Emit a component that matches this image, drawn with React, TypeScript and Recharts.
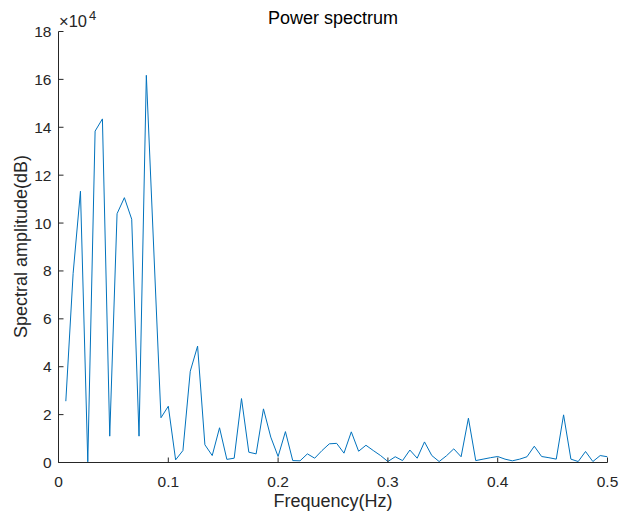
import React from 'react';
import { LineChart, Line, XAxis, YAxis } from 'recharts';

const frequencies: number[] = [
  0.00667, 0.01333, 0.02, 0.02667, 0.03333, 0.04, 0.04667, 0.05333, 0.06, 0.06667,
  0.07333, 0.08, 0.08667, 0.09333, 0.1, 0.10667, 0.11333, 0.12, 0.12667, 0.13333,
  0.14, 0.14667, 0.15333, 0.16, 0.16667, 0.17333, 0.18, 0.18667, 0.19333, 0.2,
  0.20667, 0.21333, 0.22, 0.22667, 0.23333, 0.24, 0.24667, 0.25333, 0.26, 0.26667,
  0.27333, 0.28, 0.28667, 0.29333, 0.3, 0.30667, 0.31333, 0.32, 0.32667, 0.33333,
  0.34, 0.34667, 0.35333, 0.36, 0.36667, 0.37333, 0.38, 0.38667, 0.39333, 0.4,
  0.40667, 0.41333, 0.42, 0.42667, 0.43333, 0.44, 0.44667, 0.45333, 0.46, 0.46667,
  0.47333, 0.48, 0.48667, 0.49333, 0.5,
];

const amplitudes: number[] = [
  25600, 79000, 113300, 300, 138400, 143500, 11000, 103900, 110600, 101600,
  11000, 161700, 90000, 18700, 23500, 1100, 5000, 38100, 48600, 7400,
  2900, 14500, 1300, 1800, 26700, 4300, 3600, 22400, 10600, 2500,
  12900, 800, 700, 3600, 1800, 5000, 7800, 8000, 3900, 12800,
  4700, 7200, 5000, 2900, 400, 2400, 800, 5200, 1800, 8600,
  2900, 400, 2800, 5700, 2400, 18500, 800, 1400, 2000, 2500,
  1400, 700, 1400, 2400, 6800, 2500, 2000, 1400, 19900, 1400,
  400, 4600, 400, 2900, 2400,
];

const xTicks: number[] = [0, 0.1, 0.2, 0.3, 0.4, 0.5];
const yTicks: number[] = [0, 20000, 40000, 60000, 80000, 100000, 120000, 140000, 160000, 180000];

const titleText = 'Power spectrum';
const xLabelText = 'Frequency(Hz)';
const yLabelText = 'Spectral amplitude(dB)';

const data = frequencies.map((f, i) => ({ f, v: amplitudes[i] }));

const FONT = '"Liberation Sans", Arial, Helvetica, sans-serif';
const INK = '#262626';
const TICK_LEN = 5;

const fmtX = (v: number) => (v === 0 ? '0' : String(Math.round(v * 10) / 10));
const fmtY = (v: number) => String(Math.round(v / 10000));

const BottomTick = (props: any) => {
  const { x, y, payload } = props;
  return (
    <g>
      <line x1={x} x2={x} y1={y} y2={y - TICK_LEN} stroke={INK} strokeWidth={1} />
      <text x={x} y={y + 24.5} textAnchor="middle" fontSize={15.5} fill={INK} fontFamily={FONT}>
        {fmtX(payload.value)}
      </text>
    </g>
  );
};

const TopTick = (props: any) => {
  const { x, y } = props;
  return <line x1={x} x2={x} y1={y} y2={y + TICK_LEN} stroke={INK} strokeWidth={1} />;
};

const LeftTick = (props: any) => {
  const { x, y, payload } = props;
  return (
    <g>
      <line x1={x} x2={x + TICK_LEN} y1={y} y2={y} stroke={INK} strokeWidth={1} />
      <text x={x - 7} y={y + 5.5} textAnchor="end" fontSize={15.5} fill={INK} fontFamily={FONT}>
        {fmtY(payload.value)}
      </text>
    </g>
  );
};

const RightTick = (props: any) => {
  const { x, y } = props;
  return <line x1={x} x2={x - TICK_LEN} y1={y} y2={y} stroke={INK} strokeWidth={1} />;
};

export default function App() {
  return (
    <div style={{ position: 'absolute', left: 0, top: 0, width: 622, height: 521, background: '#fff' }}>
      <LineChart
        width={622}
        height={521}
        data={data}
        margin={{ top: 31.5, right: 14.5, bottom: 0, left: 0 }}
      >
        <XAxis
          dataKey="f"
          type="number"
          domain={[0, 0.5]}
          ticks={xTicks}
          allowDataOverflow
          height={58.5}
          tickSize={0}
          tickMargin={0}
          tickLine={false}
          axisLine={{ stroke: INK, strokeWidth: 1 }}
          tick={<BottomTick />}
          interval={0}
        />
        <XAxis
          xAxisId="top"
          orientation="top"
          dataKey="f"
          type="number"
          domain={[0, 0.5]}
          ticks={xTicks}
          allowDataOverflow
          height={0}
          tickSize={0}
          tickMargin={0}
          tickLine={false}
          axisLine={{ stroke: INK, strokeWidth: 1 }}
          tick={<TopTick />}
          interval={0}
        />
        <YAxis
          type="number"
          domain={[0, 180000]}
          ticks={yTicks}
          allowDataOverflow
          width={58.5}
          tickSize={0}
          tickMargin={0}
          tickLine={false}
          axisLine={{ stroke: INK, strokeWidth: 1 }}
          tick={<LeftTick />}
          interval={0}
        />
        <YAxis
          yAxisId="right"
          orientation="right"
          type="number"
          domain={[0, 180000]}
          ticks={yTicks}
          allowDataOverflow
          width={0}
          tickSize={0}
          tickMargin={0}
          tickLine={false}
          axisLine={{ stroke: INK, strokeWidth: 1 }}
          tick={<RightTick />}
          interval={0}
        />
        <Line
          type="linear"
          dataKey="v"
          stroke="#0072BD"
          strokeWidth={1}
          dot={false}
          activeDot={false}
          isAnimationActive={false}
        />
      </LineChart>
      <svg
        width={622}
        height={521}
        style={{ position: 'absolute', left: 0, top: 0, pointerEvents: 'none' }}
      >
        <text x={333} y={24} textAnchor="middle" fontSize={18} fill="#000" fontFamily={FONT}>
          {titleText}
        </text>
        <text x={333} y={507} textAnchor="middle" fontSize={18} fill={INK} fontFamily={FONT}>
          {xLabelText}
        </text>
        <text
          x={0}
          y={0}
          transform="translate(26.5 246.5) rotate(-90)"
          textAnchor="middle"
          fontSize={18}
          fill={INK}
          fontFamily={FONT}
        >
          {yLabelText}
        </text>
        <text x={59} y={26.5} fontSize={16.5} fill={INK} fontFamily={FONT}>
          {'×10'}
          <tspan fontSize={13} dx={2} dy={-7}>4</tspan>
        </text>
      </svg>
    </div>
  );
}
